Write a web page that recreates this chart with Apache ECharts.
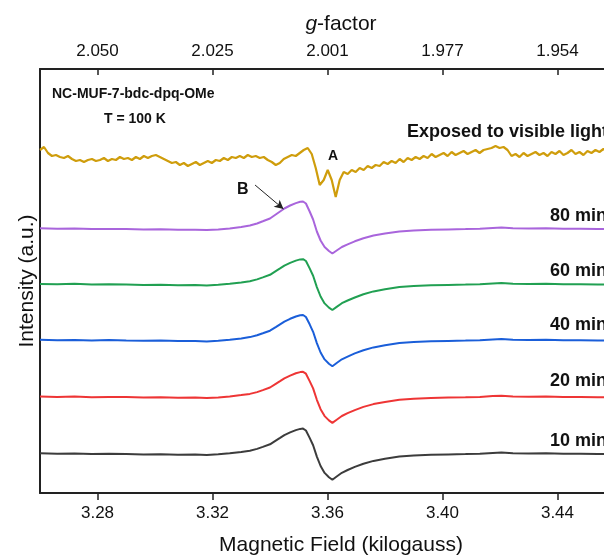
<!DOCTYPE html>
<html>
<head>
<meta charset="utf-8">
<script src="https://cdn.jsdelivr.net/npm/echarts@6/dist/echarts.min.js"></script>
<style>
  html, body { margin: 0; padding: 0; background: #fff; }
  #epr { width: 604px; height: 556px; }
</style>
</head>
<body>
<div id="epr"></div>
<script>
// tick labels
var fieldTicks = [3.28, 3.32, 3.36, 3.40, 3.44];
var gFactorTicks = ['2.050', '2.025', '2.001', '1.977', '1.954'];

// field points (kilogauss) used for the irradiated-sample traces
var dField = [3.260, 3.266, 3.272, 3.278, 3.284, 3.290, 3.296, 3.302, 3.308, 3.314,
  3.318, 3.322, 3.326, 3.330, 3.333, 3.3355, 3.3375, 3.340, 3.342, 3.3435,
  3.345, 3.347, 3.349, 3.3505, 3.3515, 3.3525, 3.3538, 3.355, 3.3563, 3.3576,
  3.359, 3.3605, 3.3617, 3.3632, 3.365, 3.367, 3.3695, 3.3725, 3.376, 3.380,
  3.385, 3.390, 3.396, 3.402, 3.408, 3.413, 3.4175, 3.4205, 3.4245, 3.430,
  3.436, 3.442, 3.448, 3.454, 3.460, 3.4694];

// intensity (a.u., stacked as plotted)
var min80 = [264.7, 264.2, 264.6, 263.9, 264.1, 264.0, 263.5, 263.7, 263.2, 263.3,
  262.9, 263.6, 264.6, 266.1, 267.5, 269.5, 271.7, 274.5, 278.5, 281.5,
  284.5, 287.5, 289.9, 291.2, 291.5, 289.5, 281.5, 273.5, 261.5, 252.5,
  246.0, 242.0, 239.5, 242.5, 246.0, 248.7, 251.7, 254.7, 257.5, 259.5,
  261.5, 262.5, 263.3, 263.6, 263.9, 264.2, 265.1, 265.5, 264.7, 264.4,
  264.7, 264.2, 264.3, 264.0, 264.2, 264.1];
var min60 = [209.1, 208.8, 209.2, 208.5, 208.7, 208.6, 208.1, 208.3, 207.8, 208.0,
  207.5, 208.2, 209.2, 210.6, 211.8, 213.6, 215.6, 218.2, 221.9, 224.6,
  227.4, 230.1, 232.4, 233.6, 233.8, 232.0, 224.6, 217.3, 205.9, 196.5,
  189.6, 185.4, 183.0, 186.1, 189.8, 192.5, 195.5, 198.8, 201.6, 203.7,
  205.9, 206.9, 207.7, 208.1, 208.4, 208.7, 209.6, 210.0, 209.2, 208.9,
  209.2, 208.7, 208.8, 208.5, 208.7, 208.6];
var min40 = [153.3, 152.8, 153.1, 152.6, 152.9, 152.5, 152.2, 152.4, 151.9, 152.0,
  151.6, 152.2, 153.3, 154.6, 155.9, 157.7, 159.7, 162.3, 165.9, 168.7,
  171.4, 174.2, 176.5, 177.7, 178.0, 176.0, 168.7, 161.2, 149.9, 140.5,
  133.6, 129.3, 126.8, 130.0, 133.7, 136.4, 139.6, 142.8, 145.6, 147.8,
  149.9, 150.9, 151.8, 152.1, 152.4, 152.7, 153.6, 154.0, 153.2, 152.9,
  153.2, 152.7, 152.8, 152.5, 152.7, 152.6];
var min20 = [96.5, 96.0, 96.4, 95.8, 96.1, 95.9, 95.5, 95.7, 95.2, 95.4,
  94.9, 95.5, 96.5, 97.9, 99.1, 100.9, 102.9, 105.5, 109.2, 111.9,
  114.7, 117.4, 119.7, 120.9, 121.2, 119.3, 111.9, 104.6, 93.2, 83.8,
  76.9, 72.6, 70.1, 73.3, 77.0, 79.8, 82.9, 86.1, 88.9, 91.1,
  93.2, 94.2, 95.1, 95.4, 95.7, 96.0, 96.9, 97.3, 96.5, 96.2,
  96.5, 96.0, 96.1, 95.8, 96.0, 95.9];
var min10 = [39.7, 39.3, 39.6, 39.0, 39.2, 39.1, 38.6, 38.8, 38.3, 38.5,
  38.0, 38.7, 39.7, 41.1, 42.3, 44.1, 46.1, 48.7, 52.4, 55.1,
  57.9, 60.6, 62.9, 64.1, 64.4, 62.5, 55.1, 47.8, 36.4, 27.0,
  20.1, 15.8, 13.3, 16.5, 20.2, 23.0, 26.1, 29.3, 32.1, 34.3,
  36.4, 37.4, 38.3, 38.6, 38.9, 39.2, 40.1, 40.5, 39.7, 39.4,
  39.7, 39.2, 39.3, 39.0, 39.2, 39.1];

// exposed-to-light trace, recorded on a uniform sweep
var sweepStart = 3.26;
var sweepStep = 0.00139;
var exposed = [343, 346, 340, 337, 338, 336, 335, 337, 334, 332,
  333, 331, 333, 334, 332, 333, 335, 332, 334, 333,
  336, 334, 335, 333, 336, 334, 337, 335, 337, 338,
  336, 334, 332, 330, 331, 328, 330, 327, 329, 331,
  328, 330, 332, 330, 333, 332, 335, 333, 336, 335,
  337, 335, 338, 336, 337, 335, 336, 333, 331, 328,
  330, 334, 336, 338, 337, 340, 343, 345, 339, 325,
  308, 313, 323, 313, 296, 313, 321, 319, 323, 321,
  325, 323, 327, 325, 328, 327, 331, 329, 332, 330,
  334, 331, 335, 333, 336, 334, 337, 335, 339, 336,
  338, 340, 337, 341, 338, 340, 342, 339, 341, 343,
  340, 343, 344, 345, 347, 345, 346, 343, 337, 339,
  336, 340, 337, 339, 341, 338, 340, 337, 341, 339,
  342, 338, 340, 343, 339, 341, 338, 342, 340, 343,
  341, 344, 341, 343, 340, 342, 341, 343, 340, 342,
  341, 343];

var curveNames = ['Exposed to visible light', '80 min', '60 min', '40 min', '20 min', '10 min'];
var curveColors = ['#cf9d0c', '#a965dc', '#21a052', '#1a5ed9', '#ee3535', '#3c3c3c'];

function pairs(xs, ys) {
  return ys.map(function (y, i) { return [xs[i], y]; });
}
var exposedField = exposed.map(function (_, i) { return sweepStart + i * sweepStep; });
var curves = [
  pairs(exposedField, exposed),
  pairs(dField, min80),
  pairs(dField, min60),
  pairs(dField, min40),
  pairs(dField, min20),
  pairs(dField, min10)
];

var font = 'Liberation Sans, Arial, sans-serif';
var dom = document.getElementById('epr');
var myChart = echarts.init(dom, null, { renderer: 'canvas' });

var series = curves.map(function (d, i) {
  var s = {
    name: curveNames[i],
    type: 'line',
    data: d,
    symbol: 'none',
    showSymbol: false,
    animation: false,
    lineStyle: { color: curveColors[i], width: i === 0 ? 2.2 : 2 },
    itemStyle: { color: curveColors[i] },
    z: 3
  };
  if (i === 1) {
    // arrow pointing at signal B
    s.markLine = {
      silent: true,
      symbol: ['none', 'arrow'],
      symbolSize: [7, 9],
      label: { show: false },
      lineStyle: { color: '#222', width: 1, type: 'solid' },
      data: [[{ coord: [3.3348, 308] }, { coord: [3.3447, 284] }]]
    };
  }
  return s;
});

function txt(x, y, text, size) {
  return {
    type: 'text', x: x, y: y, silent: true,
    style: {
      text: text, font: 'bold ' + size + 'px ' + font, fill: '#111',
      align: 'left', verticalAlign: 'middle',
      textAlign: 'left', textVerticalAlign: 'middle'
    }
  };
}

option = {
  backgroundColor: '#ffffff',
  animation: false,
  grid: { left: 40, top: 69, right: -38, bottom: 63, outerBoundsMode: 'none', containLabel: false },
  xAxis: [
    {
      type: 'value', position: 'bottom', min: 3.26, max: 3.4694,
      name: 'Magnetic Field (kilogauss)', nameLocation: 'middle', nameGap: 42,
      nameTextStyle: { fontSize: 21, color: '#111', fontFamily: font },
      axisLine: { show: true, onZero: false, lineStyle: { color: '#222', width: 2 } },
      axisTick: { show: true, inside: false, length: 7, customValues: fieldTicks, lineStyle: { color: '#222', width: 1.5 } },
      axisLabel: {
        customValues: fieldTicks, margin: 12, fontSize: 17, color: '#111', fontFamily: font,
        formatter: function (v) { return v.toFixed(2); }
      },
      splitLine: { show: false }
    },
    {
      type: 'value', position: 'top', min: 3.26, max: 3.4694,
      name: '{i|g}{n|-factor}', nameLocation: 'middle', nameGap: 34,
      nameTextStyle: {
        fontSize: 21, color: '#111', fontFamily: font,
        rich: {
          i: { fontSize: 21, color: '#111', fontFamily: font, fontStyle: 'italic' },
          n: { fontSize: 21, color: '#111', fontFamily: font }
        }
      },
      axisLine: { show: true, onZero: false, lineStyle: { color: '#222', width: 2 } },
      axisTick: { show: true, inside: true, length: 6, customValues: fieldTicks, lineStyle: { color: '#222', width: 1.5 } },
      axisLabel: {
        customValues: fieldTicks, margin: 9, fontSize: 17, color: '#111', fontFamily: font,
        formatter: function (v) {
          var k = fieldTicks.findIndex(function (t) { return Math.abs(t - v) < 1e-6; });
          return k >= 0 ? gFactorTicks[k] : '';
        }
      },
      splitLine: { show: false }
    }
  ],
  yAxis: {
    type: 'value', min: 0, max: 424,
    name: 'Intensity (a.u.)', nameLocation: 'middle', nameGap: 2,
    nameTextStyle: { fontSize: 21, color: '#111', fontFamily: font },
    axisLine: { show: true, onZero: false, lineStyle: { color: '#222', width: 2 } },
    axisTick: { show: false },
    axisLabel: { show: false },
    splitLine: { show: false }
  },
  graphic: [
    txt(52, 94, 'NC-MUF-7-bdc-dpq-OMe', 14),
    txt(104, 119, 'T = 100 K', 14),
    txt(407, 132, curveNames[0], 18),
    txt(550, 216, curveNames[1], 18),
    txt(550, 271, curveNames[2], 18),
    txt(550, 325, curveNames[3], 18),
    txt(550, 381, curveNames[4], 18),
    txt(550, 441, curveNames[5], 18),
    txt(328, 156, 'A', 14),
    txt(237, 190, 'B', 16)
  ],
  series: series
};

if (option && typeof option === 'object') {
  myChart.setOption(option, true);
}
</script>
</body>
</html>
